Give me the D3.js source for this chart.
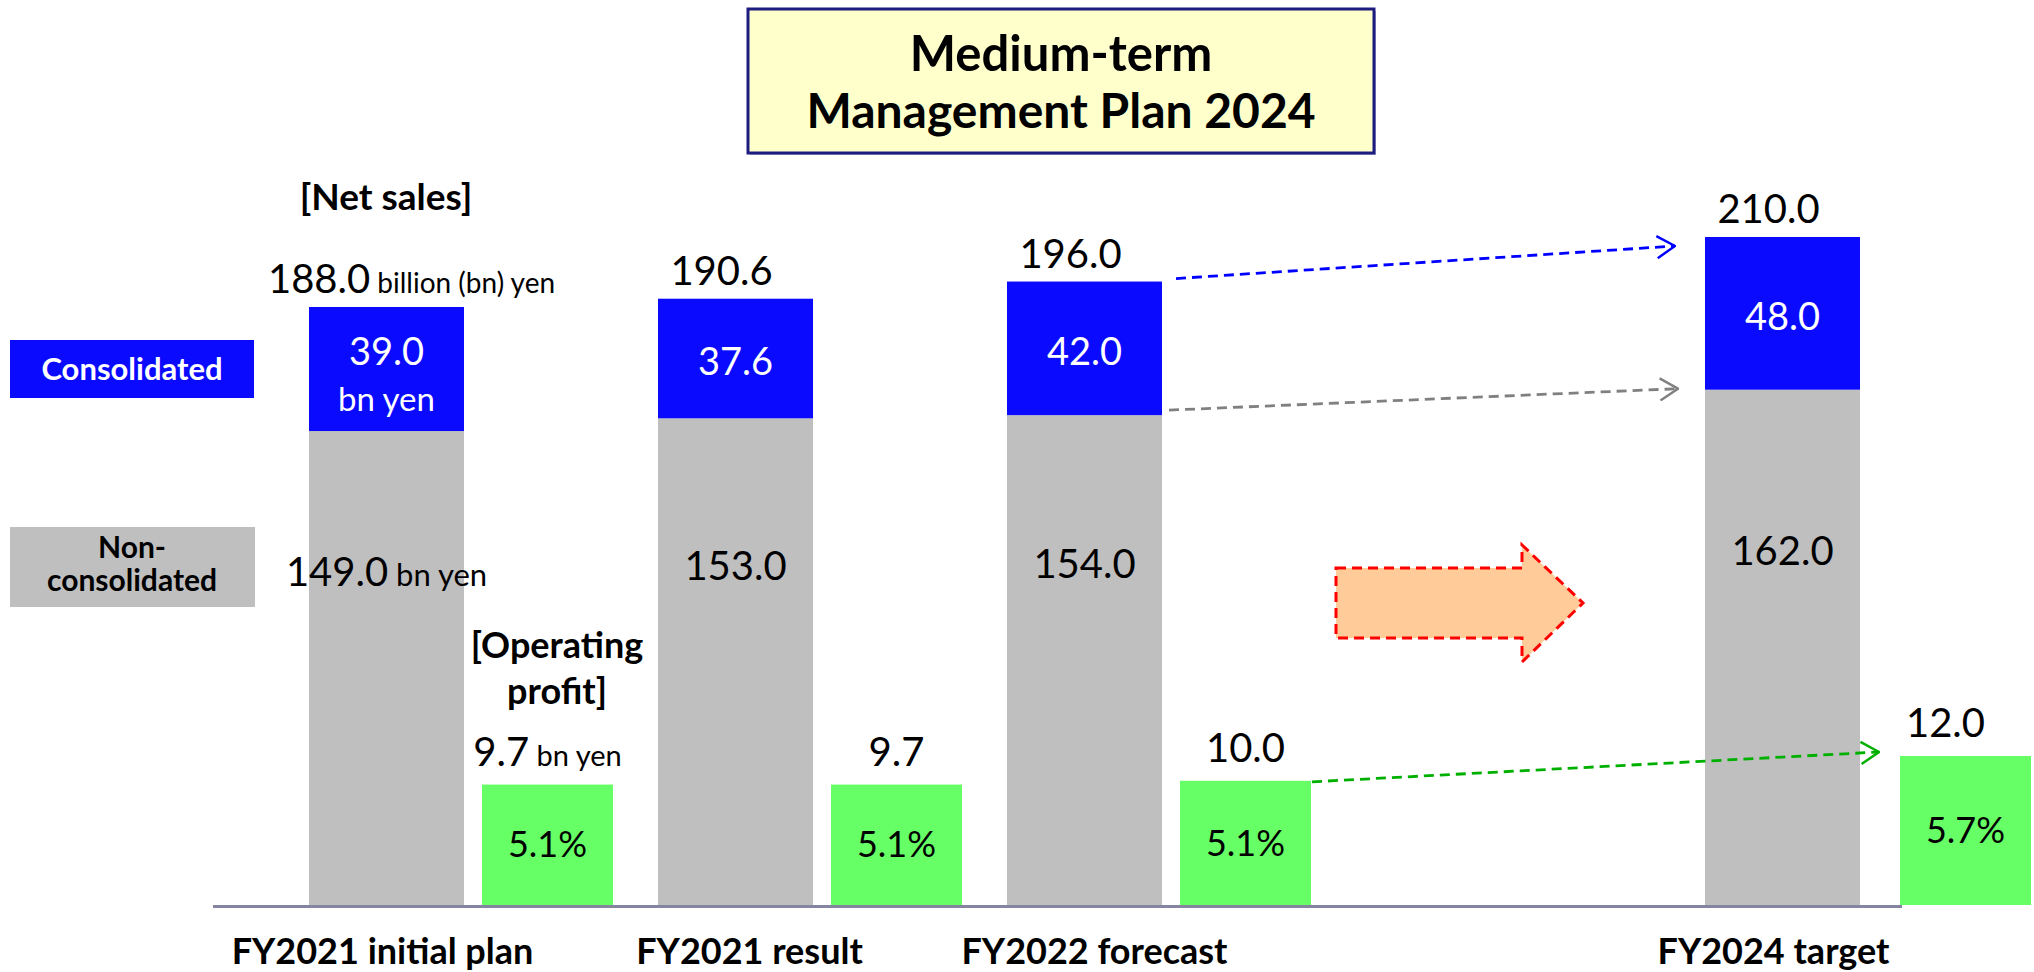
<!DOCTYPE html>
<html>
<head>
<meta charset="utf-8">
<script src="https://cdn.jsdelivr.net/npm/d3@7"></script>
<style>
  html, body { margin: 0; padding: 0; background: #ffffff; }
  svg { display: block; }
  text { font-family: Lato, "Open Sans", sans-serif; }
</style>
</head>
<body>
<svg id="chart" width="2034" height="972"></svg>
<script>
// ---- data (billion yen) ----
const categories   = ["FY2021 initial plan", "FY2021 result", "FY2022 forecast", "FY2024 target"];
const nonConsolidated = [149.0, 153.0, 154.0, 162.0];
const consolidated    = [39.0, 37.6, 42.0, 48.0];
const netSales        = [188.0, 190.6, 196.0, 210.0];
const operatingProfit = [9.7, 9.7, 10.0, 12.0];
const operatingMargin = ["5.1%", "5.1%", "5.1%", "5.7%"];
const netSalesLabels  = ["188.0", "190.6", "196.0", "210.0"];
const nonConsLabels   = ["149.0", "153.0", "154.0", "162.0"];
const consLabels      = ["39.0", "37.6", "42.0", "48.0"];
const profitLabels    = ["9.7", "9.7", "10.0", "12.0"];

const COLORS = {
  cons: "#0A0AFF",
  nonCons: "#BFBFBF",
  profit: "#66FF66",
  axis: "#8585A0",
  titleFill: "#FFFFCC",
  titleStroke: "#1C1C80"
};

const svg = d3.select("#chart");
const baseY = 905;

// slots: one empty slot between the forecast and the target columns
const slotKeys = [categories[0], categories[1], categories[2], "", categories[3]];
const x = d3.scaleBand().domain(slotKeys).range([309, 309 + 5 * 349]);
const barW = 155;
const opW = 131;
const opGap = 18;
const targetExtra = 22;

const yNet = d3.scaleLinear().domain([0, 210]).range([baseY, 237]);
const yOp  = d3.scaleLinear().domain([0, 12]).range([baseY, 756]);

const opX = (c, i) => x(c) + barW + opGap + (i === 3 ? targetExtra : 0);

// small horizontal nudges for the category captions
const catNudge = [-4, 14, 10, -9];

// ---- title box ----
svg.append("rect").attr("x", 750).attr("y", 11).attr("width", 626).attr("height", 144)
  .attr("fill", "#B8B8D8");
svg.append("rect").attr("x", 748).attr("y", 9).attr("width", 626).attr("height", 144)
  .attr("fill", COLORS.titleFill).attr("stroke", COLORS.titleStroke).attr("stroke-width", 3);
svg.append("text").attr("x", 1061).attr("y", 71).attr("text-anchor", "middle")
  .attr("font-size", 49).attr("font-weight", 700).text("Medium-term");
svg.append("text").attr("x", 1061).attr("y", 128).attr("text-anchor", "middle")
  .attr("font-size", 48).attr("font-weight", 700).text("Management Plan 2024");

// ---- legend boxes ----
svg.append("rect").attr("x", 10).attr("y", 340).attr("width", 244).attr("height", 58).attr("fill", COLORS.cons);
svg.append("text").attr("x", 132).attr("y", 380).attr("text-anchor", "middle").attr("fill", "#fff")
  .attr("font-size", 31).attr("font-weight", 700).text("Consolidated");
svg.append("rect").attr("x", 10).attr("y", 527).attr("width", 245).attr("height", 80).attr("fill", COLORS.nonCons);
svg.append("text").attr("x", 132).attr("y", 558).attr("text-anchor", "middle")
  .attr("font-size", 30).attr("font-weight", 700).text("Non-");
svg.append("text").attr("x", 132).attr("y", 591).attr("text-anchor", "middle")
  .attr("font-size", 30).attr("font-weight", 700).text("consolidated");

// ---- section headings ----
svg.append("text").attr("x", 386).attr("y", 210).attr("text-anchor", "middle")
  .attr("font-size", 37).attr("font-weight", 700).text("[Net sales]");
svg.append("text").attr("x", 557).attr("y", 658).attr("text-anchor", "middle")
  .attr("font-size", 36).attr("font-weight", 700).text("[Operating");
svg.append("text").attr("x", 557).attr("y", 704).attr("text-anchor", "middle")
  .attr("font-size", 36).attr("font-weight", 700).text("profit]");

// ---- decorative progress arrow between forecast and target ----
{
  const gx = x("");
  const pts = [
    [gx - 20, 568], [gx + 166, 568], [gx + 166, 545], [gx + 227, 603],
    [gx + 166, 662], [gx + 166, 638], [gx - 20, 638]
  ];
  svg.append("polygon").attr("points", pts.map(p => p.join(",")).join(" "))
    .attr("fill", "#FFCC99").attr("stroke", "#FF0000").attr("stroke-width", 3)
    .attr("stroke-dasharray", "10 6").attr("stroke-linejoin", "miter");
}

// ---- net sales stacked bars ----
const g = svg.append("g");
g.selectAll("rect.noncons").data(categories).join("rect")
  .attr("class", "noncons")
  .attr("x", c => x(c)).attr("width", barW)
  .attr("y", (c, i) => yNet(nonConsolidated[i]))
  .attr("height", (c, i) => baseY - yNet(nonConsolidated[i]))
  .attr("fill", COLORS.nonCons);
g.selectAll("rect.cons").data(categories).join("rect")
  .attr("class", "cons")
  .attr("x", c => x(c)).attr("width", barW)
  .attr("y", (c, i) => yNet(nonConsolidated[i] + consolidated[i]))
  .attr("height", (c, i) => yNet(nonConsolidated[i]) - yNet(nonConsolidated[i] + consolidated[i]))
  .attr("fill", COLORS.cons);

// ---- operating profit bars ----
g.selectAll("rect.op").data(categories).join("rect")
  .attr("class", "op")
  .attr("x", (c, i) => opX(c, i)).attr("width", opW)
  .attr("y", (c, i) => yOp(operatingProfit[i]))
  .attr("height", (c, i) => baseY - yOp(operatingProfit[i]))
  .attr("fill", COLORS.profit);

// ---- baseline ----
svg.append("line").attr("x1", 213).attr("x2", opX(categories[3], 3) + 2)
  .attr("y1", baseY + 1.5).attr("y2", baseY + 1.5)
  .attr("stroke", COLORS.axis).attr("stroke-width", 3);

// ---- category labels ----
svg.selectAll("text.cat").data(categories).join("text")
  .attr("class", "cat")
  .attr("x", (c, i) => x(c) + barW / 2 + catNudge[i]).attr("y", 964)
  .attr("text-anchor", "middle").attr("font-size", 36).attr("font-weight", 700)
  .text(c => c);

// ---- net sales totals ----
categories.forEach((c, i) => {
  const t = svg.append("text")
    .attr("x", x(c) + barW / 2 + (i === 0 ? 25 : -14))
    .attr("y", yNet(netSales[i]) - 14)
    .attr("text-anchor", "middle").attr("font-size", 40);
  t.append("tspan").text(netSalesLabels[i]);
  if (i === 0) t.append("tspan").attr("font-size", 28).text(" billion (bn) yen");
});

// ---- consolidated labels (white, inside blue) ----
categories.forEach((c, i) => {
  const top = yNet(nonConsolidated[i] + consolidated[i]);
  const mid = (top + yNet(nonConsolidated[i])) / 2;
  const cx = x(c) + barW / 2;
  if (i === 0) {
    svg.append("text").attr("x", cx).attr("y", mid - 17).attr("dy", "0.35em")
      .attr("text-anchor", "middle").attr("fill", "#fff").attr("font-size", 38).text(consLabels[i]);
    svg.append("text").attr("x", cx).attr("y", mid + 30).attr("dy", "0.35em")
      .attr("text-anchor", "middle").attr("fill", "#fff").attr("font-size", 33).text("bn yen");
  } else {
    svg.append("text").attr("x", cx).attr("y", mid + 3).attr("dy", "0.35em")
      .attr("text-anchor", "middle").attr("fill", "#fff").attr("font-size", 38).text(consLabels[i]);
  }
});

// ---- non-consolidated labels ----
categories.forEach((c, i) => {
  const cy = (yNet(nonConsolidated[i]) + baseY) / 2 - 96;
  const t = svg.append("text").attr("x", x(c) + barW / 2).attr("y", cy).attr("dy", "0.35em")
    .attr("text-anchor", "middle").attr("font-size", 40);
  t.append("tspan").text(nonConsLabels[i]);
  if (i === 0) t.append("tspan").attr("font-size", 31).text(" bn yen");
});

// ---- operating profit value + margin labels ----
categories.forEach((c, i) => {
  const cx = opX(c, i) + opW / 2;
  const top = yOp(operatingProfit[i]);
  const t = svg.append("text").attr("x", cx + (i === 3 ? -20 : 0)).attr("y", top - 19)
    .attr("text-anchor", "middle").attr("font-size", 40);
  t.append("tspan").text(profitLabels[i]);
  if (i === 0) t.append("tspan").attr("font-size", 29).text(" bn yen");
  svg.append("text").attr("x", cx).attr("y", (top + baseY) / 2).attr("dy", "0.35em")
    .attr("text-anchor", "middle").attr("font-size", 36).text(operatingMargin[i]);
});

// ---- dashed trend arrows from forecast to target ----
const defs = svg.append("defs");
function chevron(id, color) {
  defs.append("marker").attr("id", id).attr("viewBox", "0 0 20 24")
    .attr("refX", 19).attr("refY", 12).attr("markerWidth", 20).attr("markerHeight", 24)
    .attr("markerUnits", "userSpaceOnUse").attr("orient", "auto")
    .append("path").attr("d", "M1,1 L19,12 L1,23")
    .attr("fill", "none").attr("stroke", color).attr("stroke-width", 2.5);
}
chevron("arrBlue", "#0000FF");
chevron("arrGray", "#808080");
chevron("arrGreen", "#00B000");

const fc = categories[2], tg = categories[3];
const trends = [
  { x1: x(fc) + barW + 14, y1: yNet(netSales[2]) - 3, x2: x(tg) - 30, y2: yNet(netSales[3]) + 9, color: "#0000FF", m: "arrBlue" },
  { x1: x(fc) + barW + 7, y1: yNet(nonConsolidated[2]) - 5, x2: x(tg) - 27, y2: yNet(nonConsolidated[3]) - 1, color: "#808080", m: "arrGray" },
  { x1: opX(fc, 2) + opW + 1, y1: yOp(operatingProfit[2]) + 1, x2: opX(tg, 3) - 21, y2: yOp(operatingProfit[3]) - 4, color: "#00B000", m: "arrGreen" }
];
svg.selectAll("line.trend").data(trends).join("line")
  .attr("class", "trend")
  .attr("x1", d => d.x1).attr("y1", d => d.y1).attr("x2", d => d.x2).attr("y2", d => d.y2)
  .attr("stroke", d => d.color).attr("stroke-width", 2.8).attr("stroke-dasharray", "10 6")
  .attr("marker-end", d => `url(#${d.m})`);
</script>
</body>
</html>
